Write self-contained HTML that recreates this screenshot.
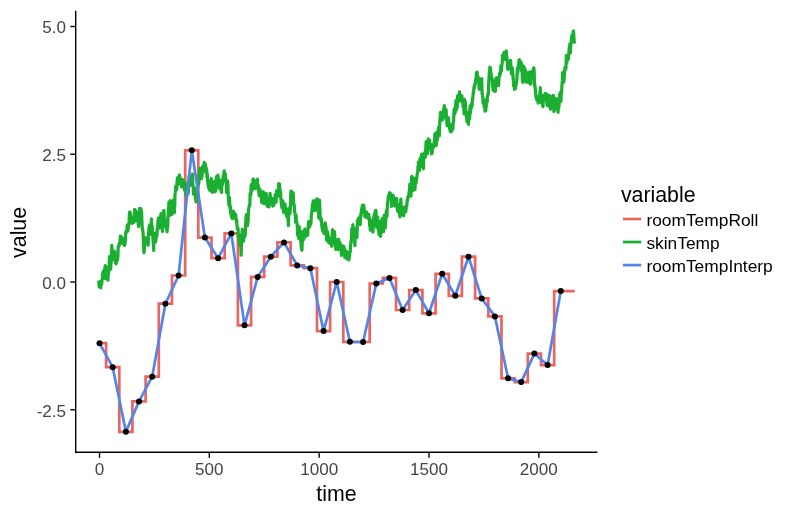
<!DOCTYPE html>
<html><head><meta charset="utf-8"><title>plot</title>
<style>
html,body{margin:0;padding:0;background:#ffffff;}
body{width:791px;height:511px;overflow:hidden;position:relative;font-family:"Liberation Sans",sans-serif;}
</style></head>
<body>
<svg width="791" height="511" viewBox="0 0 791 511" style="position:absolute;left:0;top:0;display:block;will-change:transform;opacity:0.999">
<rect x="0" y="0" width="791" height="511" fill="#ffffff"/>
<path d="M99.5,343.2 L106.1,343.2 L106.1,367.2 L119.3,367.2 L119.3,431.8 L132.4,431.8 L132.4,401.4 L145.6,401.4 L145.6,376.7 L158.8,376.7 L158.8,303.7 L172.0,303.7 L172.0,275.5 L185.2,275.5 L185.2,150.3 L198.3,150.3 L198.3,237.6 L211.5,237.6 L211.5,258.2 L224.7,258.2 L224.7,233.4 L237.9,233.4 L237.9,325.3 L251.1,325.3 L251.1,276.9 L264.2,276.9 L264.2,256.7 L277.4,256.7 L277.4,242.4 L290.6,242.4 L290.6,265.4 L303.8,265.4 L303.8,268.2 L317.0,268.2 L317.0,331.1 L330.1,331.1 L330.1,282.0 L343.3,282.0 L343.3,341.8 L356.5,341.8 L356.5,342.0 L369.7,342.0 L369.7,283.5 L382.9,283.5 L382.9,277.9 L396.0,277.9 L396.0,310.0 L409.2,310.0 L409.2,290.1 L422.4,290.1 L422.4,313.3 L435.6,313.3 L435.6,273.8 L448.8,273.8 L448.8,295.8 L461.9,295.8 L461.9,256.7 L475.1,256.7 L475.1,298.4 L488.3,298.4 L488.3,316.4 L501.5,316.4 L501.5,378.3 L514.7,378.3 L514.7,382.1 L527.8,382.1 L527.8,353.6 L541.0,353.6 L541.0,365.1 L554.2,365.1 L554.2,291.1 L574.8,291.1" fill="none" stroke="#E8665F" stroke-width="2.7" stroke-linejoin="miter" stroke-linecap="butt"/>
<path d="M98.8,280.5 L99.0,284.3 L99.2,286.9 L99.5,283.0 L99.7,284.3 L99.9,285.2 L100.1,286.6 L100.3,286.0 L100.6,287.6 L100.8,287.8 L101.0,281.2 L101.2,281.0 L101.4,281.0 L101.7,284.1 L101.9,281.3 L102.1,280.0 L102.3,278.6 L102.5,273.8 L102.8,277.7 L103.0,274.5 L103.2,271.3 L103.4,272.1 L103.6,277.9 L103.9,278.3 L104.1,273.7 L104.3,270.0 L104.5,271.5 L104.7,270.1 L105.0,266.9 L105.2,265.7 L105.4,269.6 L105.6,278.8 L105.8,276.5 L106.0,276.6 L106.3,276.0 L106.5,269.6 L106.7,268.6 L106.9,267.3 L107.1,273.8 L107.4,276.5 L107.6,273.8 L107.8,279.3 L108.0,280.1 L108.2,275.2 L108.5,273.8 L108.7,271.9 L108.9,269.0 L109.1,268.3 L109.3,259.0 L109.6,256.5 L109.8,258.9 L110.0,260.5 L110.2,263.3 L110.4,265.8 L110.7,269.1 L110.9,263.3 L111.1,263.5 L111.3,255.3 L111.5,252.6 L111.8,245.4 L112.0,249.1 L112.2,254.1 L112.4,253.5 L112.6,259.9 L112.9,257.8 L113.1,258.1 L113.3,257.3 L113.5,251.6 L113.7,251.3 L114.0,256.5 L114.2,251.2 L114.4,253.4 L114.6,251.5 L114.8,256.7 L115.1,257.4 L115.3,258.8 L115.5,261.5 L115.7,263.2 L115.9,258.5 L116.2,263.8 L116.4,259.6 L116.6,260.6 L116.8,261.3 L117.0,257.1 L117.3,256.7 L117.5,260.0 L117.7,258.7 L117.9,256.3 L118.1,248.0 L118.3,246.3 L118.6,246.4 L118.8,246.6 L119.0,244.7 L119.2,245.5 L119.4,243.3 L119.7,242.5 L119.9,243.7 L120.1,239.1 L120.3,236.2 L120.5,242.0 L120.8,243.3 L121.0,237.8 L121.2,236.5 L121.4,237.7 L121.6,241.4 L121.9,241.2 L122.1,239.5 L122.3,237.9 L122.5,241.2 L122.7,242.9 L123.0,241.5 L123.2,241.6 L123.4,240.9 L123.6,244.3 L123.8,242.2 L124.1,242.5 L124.3,244.6 L124.5,245.4 L124.7,241.3 L124.9,244.8 L125.2,241.1 L125.4,241.4 L125.6,238.0 L125.8,231.7 L126.0,232.0 L126.3,232.4 L126.5,231.5 L126.7,232.0 L126.9,229.2 L127.1,226.3 L127.4,224.8 L127.6,229.7 L127.8,231.2 L128.0,228.4 L128.2,229.3 L128.5,226.6 L128.7,223.5 L128.9,225.0 L129.1,221.6 L129.3,215.4 L129.6,212.1 L129.8,212.0 L130.0,212.1 L130.2,216.3 L130.4,213.2 L130.7,215.8 L130.9,217.2 L131.1,216.6 L131.3,219.6 L131.5,221.6 L131.7,218.9 L132.0,223.4 L132.2,219.3 L132.4,220.2 L132.6,220.8 L132.8,223.0 L133.1,221.6 L133.3,221.4 L133.5,219.6 L133.7,222.4 L133.9,218.2 L134.2,217.4 L134.4,215.3 L134.6,209.4 L134.8,217.5 L135.0,216.0 L135.3,209.8 L135.5,214.7 L135.7,212.5 L135.9,215.7 L136.1,220.6 L136.4,219.7 L136.6,220.0 L136.8,219.5 L137.0,219.9 L137.2,215.6 L137.5,212.3 L137.7,212.7 L137.9,216.3 L138.1,218.6 L138.3,224.6 L138.6,226.6 L138.8,224.5 L139.0,223.5 L139.2,216.0 L139.4,212.2 L139.7,208.4 L139.9,209.7 L140.1,213.8 L140.3,213.4 L140.5,212.6 L140.8,208.5 L141.0,209.1 L141.2,210.9 L141.4,213.3 L141.6,211.5 L141.9,219.5 L142.1,225.4 L142.3,228.2 L142.5,228.8 L142.7,230.0 L143.0,232.9 L143.2,235.2 L143.4,239.3 L143.6,244.3 L143.8,251.1 L144.0,252.7 L144.3,249.8 L144.5,248.4 L144.7,244.0 L144.9,238.8 L145.1,242.4 L145.4,237.8 L145.6,242.3 L145.8,238.9 L146.0,238.0 L146.2,242.2 L146.5,242.5 L146.7,243.5 L146.9,243.5 L147.1,242.4 L147.3,242.8 L147.6,239.5 L147.8,243.3 L148.0,240.9 L148.2,245.1 L148.4,233.9 L148.7,231.4 L148.9,230.6 L149.1,226.8 L149.3,227.7 L149.5,227.5 L149.8,224.8 L150.0,226.1 L150.2,234.5 L150.4,233.8 L150.6,233.3 L150.9,229.9 L151.1,228.4 L151.3,221.9 L151.5,218.8 L151.7,224.8 L152.0,226.6 L152.2,226.5 L152.4,228.7 L152.6,234.0 L152.8,235.2 L153.1,241.4 L153.3,244.1 L153.5,244.4 L153.7,250.5 L153.9,241.9 L154.2,239.6 L154.4,240.6 L154.6,237.3 L154.8,237.1 L155.0,235.3 L155.3,233.3 L155.5,242.1 L155.7,241.3 L155.9,237.8 L156.1,239.1 L156.4,234.9 L156.6,234.4 L156.8,232.6 L157.0,235.6 L157.2,228.4 L157.4,228.8 L157.7,227.0 L157.9,220.8 L158.1,222.8 L158.3,218.2 L158.5,222.6 L158.8,223.4 L159.0,225.0 L159.2,225.1 L159.4,228.2 L159.6,221.0 L159.9,220.3 L160.1,217.0 L160.3,217.2 L160.5,216.4 L160.7,217.8 L161.0,213.6 L161.2,219.0 L161.4,225.4 L161.6,223.2 L161.8,221.8 L162.1,221.9 L162.3,225.4 L162.5,231.5 L162.7,226.2 L162.9,223.3 L163.2,219.6 L163.4,216.0 L163.6,210.7 L163.8,212.7 L164.0,210.5 L164.3,218.3 L164.5,223.9 L164.7,222.5 L164.9,221.0 L165.1,220.4 L165.4,226.4 L165.6,224.4 L165.8,220.1 L166.0,221.1 L166.2,223.7 L166.5,223.0 L166.7,229.9 L166.9,230.4 L167.1,231.8 L167.3,228.6 L167.6,227.3 L167.8,225.6 L168.0,216.3 L168.2,215.5 L168.4,208.0 L168.7,207.4 L168.9,201.9 L169.1,208.2 L169.3,209.2 L169.5,212.6 L169.8,215.4 L170.0,210.8 L170.2,202.4 L170.4,200.5 L170.6,202.7 L170.8,203.0 L171.1,206.0 L171.3,210.0 L171.5,205.6 L171.7,207.3 L171.9,214.5 L172.2,213.2 L172.4,206.9 L172.6,206.5 L172.8,205.1 L173.0,207.4 L173.3,204.6 L173.5,205.9 L173.7,199.5 L173.9,203.7 L174.1,209.1 L174.4,212.6 L174.6,206.1 L174.8,205.9 L175.0,193.8 L175.2,193.1 L175.5,191.1 L175.7,186.2 L175.9,186.5 L176.1,186.4 L176.3,188.7 L176.6,188.5 L176.8,189.5 L177.0,183.1 L177.2,179.4 L177.4,177.9 L177.7,179.1 L177.9,179.4 L178.1,184.6 L178.3,181.3 L178.5,179.9 L178.8,179.9 L179.0,177.6 L179.2,178.1 L179.4,174.8 L179.6,178.7 L179.9,176.7 L180.1,179.3 L180.3,178.7 L180.5,183.8 L180.7,179.0 L181.0,180.9 L181.2,179.9 L181.4,181.6 L181.6,186.8 L181.8,184.5 L182.1,181.6 L182.3,180.0 L182.5,183.4 L182.7,179.5 L182.9,182.5 L183.1,180.8 L183.4,180.5 L183.6,182.7 L183.8,187.3 L184.0,187.8 L184.2,188.3 L184.5,189.8 L184.7,190.4 L184.9,182.6 L185.1,182.3 L185.3,183.2 L185.6,186.7 L185.8,193.4 L186.0,195.2 L186.2,194.7 L186.4,190.0 L186.7,188.3 L186.9,189.0 L187.1,191.6 L187.3,187.0 L187.5,186.9 L187.8,188.8 L188.0,194.1 L188.2,193.4 L188.4,188.8 L188.6,184.1 L188.9,180.6 L189.1,176.0 L189.3,176.7 L189.5,178.1 L189.7,178.7 L190.0,181.4 L190.2,178.4 L190.4,178.2 L190.6,177.9 L190.8,179.1 L191.1,184.5 L191.3,185.4 L191.5,180.2 L191.7,180.8 L191.9,179.4 L192.2,175.7 L192.4,174.1 L192.6,178.2 L192.8,185.0 L193.0,184.6 L193.3,189.2 L193.5,194.1 L193.7,190.3 L193.9,190.5 L194.1,191.5 L194.4,192.9 L194.6,188.3 L194.8,188.2 L195.0,190.8 L195.2,194.2 L195.5,199.3 L195.7,196.6 L195.9,201.4 L196.1,201.9 L196.3,194.9 L196.5,195.0 L196.8,191.3 L197.0,191.1 L197.2,187.8 L197.4,189.1 L197.6,187.6 L197.9,184.6 L198.1,185.9 L198.3,185.0 L198.5,181.3 L198.7,183.9 L199.0,180.5 L199.2,176.9 L199.4,175.3 L199.6,170.2 L199.8,168.3 L200.1,175.1 L200.3,172.2 L200.5,172.9 L200.7,169.8 L200.9,168.6 L201.2,174.9 L201.4,178.6 L201.6,176.9 L201.8,177.6 L202.0,175.3 L202.3,173.1 L202.5,169.5 L202.7,166.0 L202.9,166.9 L203.1,168.9 L203.4,170.1 L203.6,169.1 L203.8,165.2 L204.0,165.6 L204.2,162.4 L204.5,165.8 L204.7,168.0 L204.9,170.8 L205.1,170.1 L205.3,163.9 L205.6,167.5 L205.8,172.4 L206.0,167.3 L206.2,168.1 L206.4,172.9 L206.7,169.7 L206.9,176.9 L207.1,176.3 L207.3,173.9 L207.5,180.4 L207.8,182.8 L208.0,181.7 L208.2,186.0 L208.4,180.3 L208.6,188.0 L208.8,186.4 L209.1,187.9 L209.3,186.1 L209.5,187.4 L209.7,190.4 L209.9,187.3 L210.2,189.5 L210.4,188.0 L210.6,184.8 L210.8,183.6 L211.0,180.2 L211.3,178.6 L211.5,183.3 L211.7,183.9 L211.9,189.5 L212.1,192.3 L212.4,190.3 L212.6,185.6 L212.8,184.8 L213.0,186.5 L213.2,187.5 L213.5,185.7 L213.7,190.4 L213.9,185.5 L214.1,181.7 L214.3,182.4 L214.6,190.2 L214.8,191.9 L215.0,188.3 L215.2,189.8 L215.4,191.0 L215.7,191.0 L215.9,186.2 L216.1,180.1 L216.3,177.7 L216.5,176.5 L216.8,179.0 L217.0,184.7 L217.2,180.8 L217.4,177.8 L217.6,176.7 L217.9,175.1 L218.1,176.3 L218.3,177.9 L218.5,179.6 L218.7,185.7 L219.0,188.1 L219.2,187.2 L219.4,184.8 L219.6,184.6 L219.8,184.5 L220.1,180.1 L220.3,185.1 L220.5,188.7 L220.7,189.9 L220.9,189.3 L221.2,185.9 L221.4,184.4 L221.6,192.5 L221.8,184.7 L222.0,183.7 L222.2,185.0 L222.5,184.3 L222.7,181.7 L222.9,182.2 L223.1,175.8 L223.3,176.6 L223.6,180.0 L223.8,175.2 L224.0,171.3 L224.2,170.8 L224.4,173.5 L224.7,177.7 L224.9,179.3 L225.1,176.1 L225.3,173.6 L225.5,176.8 L225.8,180.6 L226.0,179.4 L226.2,182.5 L226.4,186.5 L226.6,192.5 L226.9,189.2 L227.1,190.2 L227.3,184.9 L227.5,182.6 L227.7,181.0 L228.0,185.3 L228.2,196.4 L228.4,198.2 L228.6,200.5 L228.8,204.9 L229.1,200.4 L229.3,203.1 L229.5,197.6 L229.7,202.2 L229.9,207.4 L230.2,209.2 L230.4,206.4 L230.6,212.3 L230.8,213.1 L231.0,214.1 L231.3,216.3 L231.5,210.7 L231.7,213.0 L231.9,217.4 L232.1,218.3 L232.4,218.6 L232.6,215.0 L232.8,216.7 L233.0,216.7 L233.2,215.2 L233.5,211.4 L233.7,211.8 L233.9,213.7 L234.1,212.6 L234.3,213.0 L234.5,214.9 L234.8,217.9 L235.0,217.0 L235.2,216.1 L235.4,214.4 L235.6,214.6 L235.9,216.7 L236.1,220.6 L236.3,220.1 L236.5,222.2 L236.7,220.2 L237.0,226.1 L237.2,226.1 L237.4,229.0 L237.6,228.4 L237.8,229.4 L238.1,228.5 L238.3,235.8 L238.5,237.5 L238.7,237.8 L238.9,235.4 L239.2,234.6 L239.4,237.8 L239.6,244.7 L239.8,240.8 L240.0,239.7 L240.3,244.1 L240.5,246.5 L240.7,245.1 L240.9,248.8 L241.1,255.1 L241.4,246.8 L241.6,241.7 L241.8,239.4 L242.0,236.8 L242.2,229.4 L242.5,230.9 L242.7,229.9 L242.9,230.6 L243.1,237.0 L243.3,236.1 L243.6,241.1 L243.8,234.7 L244.0,235.8 L244.2,232.6 L244.4,235.4 L244.7,236.5 L244.9,236.5 L245.1,234.0 L245.3,234.5 L245.5,223.8 L245.8,221.2 L246.0,217.9 L246.2,215.9 L246.4,214.7 L246.6,223.7 L246.9,220.7 L247.1,221.4 L247.3,221.0 L247.5,225.7 L247.7,217.8 L247.9,222.9 L248.2,219.8 L248.4,212.1 L248.6,209.0 L248.8,208.8 L249.0,207.2 L249.3,205.2 L249.5,206.2 L249.7,205.0 L249.9,203.1 L250.1,193.5 L250.4,193.1 L250.6,195.6 L250.8,194.4 L251.0,188.3 L251.2,184.5 L251.5,191.5 L251.7,190.7 L251.9,188.9 L252.1,186.7 L252.3,189.7 L252.6,188.1 L252.8,184.9 L253.0,179.3 L253.2,178.9 L253.4,182.1 L253.7,181.0 L253.9,183.5 L254.1,183.9 L254.3,184.5 L254.5,184.9 L254.8,184.4 L255.0,187.2 L255.2,188.7 L255.4,186.4 L255.6,186.4 L255.9,185.8 L256.1,186.2 L256.3,185.4 L256.5,185.6 L256.7,179.8 L257.0,180.4 L257.2,184.4 L257.4,179.2 L257.6,184.3 L257.8,187.4 L258.1,189.0 L258.3,185.4 L258.5,191.7 L258.7,190.7 L258.9,191.7 L259.2,195.9 L259.4,194.6 L259.6,192.2 L259.8,189.3 L260.0,189.1 L260.3,191.5 L260.5,193.5 L260.7,195.6 L260.9,194.8 L261.1,195.7 L261.3,194.1 L261.6,201.5 L261.8,202.8 L262.0,196.5 L262.2,192.9 L262.4,198.9 L262.7,194.1 L262.9,192.9 L263.1,194.6 L263.3,191.5 L263.5,195.9 L263.8,202.2 L264.0,199.1 L264.2,203.6 L264.4,201.0 L264.6,198.0 L264.9,199.4 L265.1,200.3 L265.3,198.5 L265.5,202.4 L265.7,198.0 L266.0,195.9 L266.2,193.3 L266.4,197.1 L266.6,201.4 L266.8,205.2 L267.1,202.0 L267.3,203.8 L267.5,206.3 L267.7,201.2 L267.9,198.7 L268.2,201.7 L268.4,205.1 L268.6,206.4 L268.8,206.9 L269.0,206.6 L269.3,205.7 L269.5,203.7 L269.7,198.8 L269.9,196.3 L270.1,193.3 L270.4,199.9 L270.6,200.4 L270.8,200.4 L271.0,199.7 L271.2,199.2 L271.5,198.1 L271.7,199.9 L271.9,199.5 L272.1,202.7 L272.3,200.7 L272.6,202.8 L272.8,206.2 L273.0,202.7 L273.2,204.0 L273.4,205.5 L273.6,205.4 L273.9,204.7 L274.1,198.9 L274.3,203.6 L274.5,201.3 L274.7,197.4 L275.0,200.5 L275.2,194.6 L275.4,198.5 L275.6,200.6 L275.8,202.4 L276.1,202.0 L276.3,197.7 L276.5,190.8 L276.7,195.8 L276.9,193.6 L277.2,191.1 L277.4,195.7 L277.6,192.6 L277.8,191.5 L278.0,190.6 L278.3,189.6 L278.5,185.8 L278.7,183.7 L278.9,190.4 L279.1,196.1 L279.4,188.4 L279.6,184.1 L279.8,187.8 L280.0,189.9 L280.2,190.6 L280.5,196.3 L280.7,192.6 L280.9,199.2 L281.1,200.9 L281.3,203.4 L281.6,204.6 L281.8,207.6 L282.0,206.2 L282.2,204.0 L282.4,205.9 L282.7,206.1 L282.9,200.8 L283.1,204.5 L283.3,207.7 L283.5,212.1 L283.8,211.3 L284.0,211.6 L284.2,209.7 L284.4,206.0 L284.6,205.3 L284.9,205.4 L285.1,204.1 L285.3,212.2 L285.5,208.6 L285.7,208.2 L286.0,208.0 L286.2,214.4 L286.4,215.2 L286.6,216.0 L286.8,214.0 L287.0,212.8 L287.3,209.0 L287.5,213.2 L287.7,215.6 L287.9,219.5 L288.1,217.3 L288.4,225.6 L288.6,221.1 L288.8,212.8 L289.0,210.4 L289.2,210.1 L289.5,212.0 L289.7,207.6 L289.9,208.5 L290.1,213.5 L290.3,208.0 L290.6,202.3 L290.8,193.1 L291.0,191.0 L291.2,191.5 L291.4,191.4 L291.7,191.9 L291.9,194.8 L292.1,194.3 L292.3,198.1 L292.5,195.2 L292.8,193.1 L293.0,194.6 L293.2,192.8 L293.4,196.1 L293.6,202.6 L293.9,205.8 L294.1,205.4 L294.3,205.0 L294.5,212.0 L294.7,211.2 L295.0,213.3 L295.2,214.1 L295.4,216.4 L295.6,222.1 L295.8,220.2 L296.1,214.9 L296.3,219.9 L296.5,220.6 L296.7,223.0 L296.9,222.6 L297.2,224.8 L297.4,229.2 L297.6,235.0 L297.8,234.7 L298.0,234.2 L298.3,236.2 L298.5,237.3 L298.7,238.4 L298.9,235.2 L299.1,226.5 L299.3,227.7 L299.6,229.8 L299.8,231.3 L300.0,236.4 L300.2,239.3 L300.4,238.0 L300.7,241.7 L300.9,241.1 L301.1,245.8 L301.3,247.0 L301.5,248.8 L301.8,249.8 L302.0,250.2 L302.2,243.0 L302.4,241.6 L302.6,231.5 L302.9,231.7 L303.1,233.4 L303.3,239.4 L303.5,239.6 L303.7,236.1 L304.0,230.9 L304.2,238.1 L304.4,233.2 L304.6,236.8 L304.8,229.2 L305.1,230.0 L305.3,233.5 L305.5,235.5 L305.7,236.2 L305.9,233.9 L306.2,230.5 L306.4,234.2 L306.6,235.3 L306.8,234.1 L307.0,234.4 L307.3,230.4 L307.5,232.8 L307.7,235.3 L307.9,229.3 L308.1,226.3 L308.4,227.0 L308.6,221.5 L308.8,225.5 L309.0,227.4 L309.2,223.1 L309.5,223.6 L309.7,226.6 L309.9,221.6 L310.1,223.5 L310.3,222.4 L310.6,221.6 L310.8,224.3 L311.0,222.9 L311.2,218.1 L311.4,213.6 L311.7,211.9 L311.9,211.8 L312.1,209.2 L312.3,206.3 L312.5,204.1 L312.7,206.5 L313.0,206.1 L313.2,200.8 L313.4,200.9 L313.6,206.2 L313.8,205.4 L314.1,205.5 L314.3,206.9 L314.5,205.3 L314.7,210.6 L314.9,204.7 L315.2,210.3 L315.4,209.2 L315.6,204.8 L315.8,205.8 L316.0,199.8 L316.3,201.4 L316.5,203.7 L316.7,200.8 L316.9,198.9 L317.1,201.5 L317.4,199.1 L317.6,200.6 L317.8,203.3 L318.0,210.8 L318.2,210.9 L318.5,212.7 L318.7,218.0 L318.9,210.7 L319.1,210.9 L319.3,205.2 L319.6,200.0 L319.8,208.5 L320.0,210.7 L320.2,217.0 L320.4,217.6 L320.7,220.2 L320.9,219.6 L321.1,218.3 L321.3,218.5 L321.5,219.7 L321.8,225.9 L322.0,226.4 L322.2,228.9 L322.4,229.1 L322.6,230.4 L322.9,226.9 L323.1,231.6 L323.3,230.5 L323.5,231.6 L323.7,231.6 L324.0,233.5 L324.2,232.4 L324.4,229.4 L324.6,227.0 L324.8,225.1 L325.0,224.0 L325.3,222.8 L325.5,225.8 L325.7,230.8 L325.9,232.2 L326.1,227.2 L326.4,232.6 L326.6,240.1 L326.8,238.9 L327.0,237.7 L327.2,231.0 L327.5,235.2 L327.7,233.3 L327.9,241.2 L328.1,234.4 L328.3,237.0 L328.6,241.7 L328.8,242.5 L329.0,241.3 L329.2,243.2 L329.4,241.6 L329.7,241.2 L329.9,241.0 L330.1,239.3 L330.3,238.6 L330.5,242.1 L330.8,241.4 L331.0,243.2 L331.2,241.4 L331.4,245.3 L331.6,241.8 L331.9,246.3 L332.1,236.4 L332.3,234.2 L332.5,229.6 L332.7,234.6 L333.0,237.1 L333.2,234.2 L333.4,233.2 L333.6,239.1 L333.8,239.4 L334.1,241.9 L334.3,236.4 L334.5,231.6 L334.7,234.5 L334.9,243.6 L335.2,242.7 L335.4,246.0 L335.6,243.6 L335.8,249.4 L336.0,248.5 L336.3,247.0 L336.5,240.4 L336.7,239.7 L336.9,241.4 L337.1,247.6 L337.4,244.3 L337.6,249.1 L337.8,249.4 L338.0,249.6 L338.2,247.4 L338.4,242.4 L338.7,239.4 L338.9,246.5 L339.1,243.3 L339.3,243.0 L339.5,248.1 L339.8,242.0 L340.0,244.6 L340.2,243.6 L340.4,244.8 L340.6,249.2 L340.9,249.4 L341.1,249.6 L341.3,253.4 L341.5,255.5 L341.7,252.4 L342.0,251.2 L342.2,246.0 L342.4,250.5 L342.6,245.8 L342.8,246.0 L343.1,251.7 L343.3,253.7 L343.5,252.2 L343.7,249.2 L343.9,246.3 L344.2,249.1 L344.4,249.5 L344.6,248.8 L344.8,257.4 L345.0,254.2 L345.3,252.1 L345.5,250.9 L345.7,251.4 L345.9,252.6 L346.1,252.1 L346.4,255.2 L346.6,258.5 L346.8,258.8 L347.0,251.6 L347.2,255.7 L347.5,254.3 L347.7,254.1 L347.9,255.6 L348.1,253.6 L348.3,253.4 L348.6,256.0 L348.8,256.5 L349.0,259.9 L349.2,257.5 L349.4,257.1 L349.7,253.3 L349.9,252.0 L350.1,252.5 L350.3,251.4 L350.5,245.6 L350.8,243.9 L351.0,241.5 L351.2,242.7 L351.4,239.9 L351.6,235.5 L351.8,228.5 L352.1,233.7 L352.3,231.6 L352.5,228.9 L352.7,229.5 L352.9,224.5 L353.2,228.9 L353.4,229.9 L353.6,232.2 L353.8,229.4 L354.0,227.8 L354.3,230.5 L354.5,233.3 L354.7,242.3 L354.9,245.6 L355.1,238.3 L355.4,237.6 L355.6,235.3 L355.8,237.7 L356.0,235.6 L356.2,235.3 L356.5,232.8 L356.7,233.8 L356.9,237.6 L357.1,233.8 L357.3,224.8 L357.6,220.0 L357.8,224.4 L358.0,224.3 L358.2,222.5 L358.4,218.3 L358.7,221.2 L358.9,221.7 L359.1,220.7 L359.3,218.1 L359.5,217.5 L359.8,217.0 L360.0,219.6 L360.2,224.7 L360.4,218.7 L360.6,214.7 L360.9,215.5 L361.1,216.5 L361.3,211.7 L361.5,209.8 L361.7,208.8 L362.0,207.7 L362.2,206.2 L362.4,205.5 L362.6,208.3 L362.8,210.3 L363.1,211.5 L363.3,211.4 L363.5,207.7 L363.7,205.1 L363.9,207.3 L364.1,208.2 L364.4,211.5 L364.6,213.3 L364.8,214.5 L365.0,217.2 L365.2,212.7 L365.5,212.8 L365.7,211.6 L365.9,215.3 L366.1,212.9 L366.3,213.6 L366.6,212.0 L366.8,213.7 L367.0,216.0 L367.2,215.2 L367.4,215.4 L367.7,215.9 L367.9,218.5 L368.1,217.0 L368.3,217.5 L368.5,216.9 L368.8,214.4 L369.0,216.4 L369.2,219.2 L369.4,218.1 L369.6,225.6 L369.9,224.7 L370.1,228.4 L370.3,230.2 L370.5,224.9 L370.7,225.5 L371.0,220.5 L371.2,220.3 L371.4,222.0 L371.6,227.8 L371.8,230.0 L372.1,224.6 L372.3,223.0 L372.5,227.5 L372.7,227.2 L372.9,232.2 L373.2,228.5 L373.4,225.6 L373.6,219.9 L373.8,216.9 L374.0,219.0 L374.3,214.1 L374.5,215.2 L374.7,215.1 L374.9,215.9 L375.1,212.6 L375.4,210.7 L375.6,216.2 L375.8,210.4 L376.0,211.6 L376.2,217.1 L376.5,219.9 L376.7,227.3 L376.9,218.2 L377.1,218.9 L377.3,216.8 L377.5,217.2 L377.8,219.3 L378.0,223.8 L378.2,223.8 L378.4,230.4 L378.6,227.7 L378.9,233.5 L379.1,234.6 L379.3,230.6 L379.5,227.0 L379.7,223.1 L380.0,221.9 L380.2,224.8 L380.4,231.7 L380.6,236.4 L380.8,233.9 L381.1,227.5 L381.3,227.2 L381.5,222.4 L381.7,221.7 L381.9,218.8 L382.2,228.1 L382.4,222.9 L382.6,224.8 L382.8,231.5 L383.0,229.9 L383.3,226.8 L383.5,231.7 L383.7,224.3 L383.9,219.1 L384.1,215.3 L384.4,216.9 L384.6,220.3 L384.8,220.5 L385.0,228.2 L385.2,227.6 L385.5,224.6 L385.7,219.5 L385.9,219.7 L386.1,215.7 L386.3,210.6 L386.6,212.8 L386.8,214.7 L387.0,216.4 L387.2,210.4 L387.4,204.9 L387.7,202.8 L387.9,200.7 L388.1,198.1 L388.3,196.4 L388.5,198.2 L388.8,195.4 L389.0,196.6 L389.2,195.4 L389.4,193.7 L389.6,192.7 L389.8,195.1 L390.1,195.7 L390.3,193.1 L390.5,194.4 L390.7,195.5 L390.9,197.4 L391.2,197.4 L391.4,202.9 L391.6,206.4 L391.8,204.3 L392.0,201.0 L392.3,197.5 L392.5,199.8 L392.7,198.3 L392.9,197.4 L393.1,195.1 L393.4,197.8 L393.6,203.5 L393.8,200.5 L394.0,204.9 L394.2,204.4 L394.5,206.0 L394.7,203.0 L394.9,198.4 L395.1,200.3 L395.3,205.4 L395.6,199.9 L395.8,200.1 L396.0,201.2 L396.2,203.9 L396.4,200.4 L396.7,198.6 L396.9,202.2 L397.1,208.5 L397.3,208.4 L397.5,211.0 L397.8,210.8 L398.0,211.5 L398.2,209.2 L398.4,207.1 L398.6,204.8 L398.9,205.6 L399.1,210.0 L399.3,211.6 L399.5,214.7 L399.7,213.4 L400.0,217.0 L400.2,207.0 L400.4,203.3 L400.6,203.7 L400.8,199.2 L401.1,203.6 L401.3,208.2 L401.5,209.3 L401.7,213.9 L401.9,212.1 L402.2,212.0 L402.4,213.8 L402.6,209.9 L402.8,214.0 L403.0,212.1 L403.2,215.5 L403.5,215.0 L403.7,215.7 L403.9,211.9 L404.1,209.8 L404.3,207.0 L404.6,206.9 L404.8,211.2 L405.0,208.9 L405.2,208.0 L405.4,209.1 L405.7,211.8 L405.9,210.9 L406.1,208.9 L406.3,206.3 L406.5,205.8 L406.8,205.7 L407.0,202.2 L407.2,199.8 L407.4,201.5 L407.6,200.3 L407.9,196.7 L408.1,196.6 L408.3,196.9 L408.5,197.0 L408.7,197.0 L409.0,193.1 L409.2,191.5 L409.4,190.3 L409.6,189.0 L409.8,184.0 L410.1,186.0 L410.3,189.6 L410.5,193.4 L410.7,194.0 L410.9,196.1 L411.2,191.8 L411.4,187.6 L411.6,176.9 L411.8,176.3 L412.0,182.0 L412.3,188.3 L412.5,184.7 L412.7,186.9 L412.9,190.7 L413.1,188.6 L413.4,179.6 L413.6,182.6 L413.8,180.2 L414.0,178.0 L414.2,182.8 L414.5,183.2 L414.7,185.0 L414.9,189.6 L415.1,187.5 L415.3,182.7 L415.5,183.8 L415.8,182.0 L416.0,183.1 L416.2,183.0 L416.4,179.3 L416.6,178.6 L416.9,176.9 L417.1,174.6 L417.3,173.2 L417.5,173.1 L417.7,172.5 L418.0,166.8 L418.2,167.9 L418.4,162.1 L418.6,169.1 L418.8,166.4 L419.1,165.8 L419.3,170.3 L419.5,169.5 L419.7,164.5 L419.9,158.8 L420.2,159.0 L420.4,159.3 L420.6,160.9 L420.8,160.3 L421.0,157.0 L421.3,156.7 L421.5,159.6 L421.7,154.0 L421.9,163.6 L422.1,159.9 L422.4,162.1 L422.6,166.3 L422.8,167.1 L423.0,165.9 L423.2,166.5 L423.5,168.8 L423.7,158.2 L423.9,158.1 L424.1,155.7 L424.3,152.9 L424.6,153.1 L424.8,153.6 L425.0,155.4 L425.2,153.6 L425.4,157.4 L425.7,149.7 L425.9,145.6 L426.1,141.5 L426.3,142.7 L426.5,142.1 L426.8,145.6 L427.0,144.0 L427.2,149.9 L427.4,153.7 L427.6,152.5 L427.9,147.0 L428.1,143.8 L428.3,138.8 L428.5,143.2 L428.7,145.7 L428.9,141.7 L429.2,148.6 L429.4,148.0 L429.6,140.1 L429.8,143.6 L430.0,147.4 L430.3,147.1 L430.5,144.0 L430.7,148.8 L430.9,148.6 L431.1,149.8 L431.4,152.1 L431.6,154.0 L431.8,153.5 L432.0,150.9 L432.2,153.1 L432.5,144.8 L432.7,145.3 L432.9,145.5 L433.1,146.9 L433.3,145.5 L433.6,145.6 L433.8,147.2 L434.0,142.8 L434.2,142.3 L434.4,143.0 L434.7,137.8 L434.9,133.5 L435.1,138.5 L435.3,141.8 L435.5,138.8 L435.8,140.3 L436.0,140.0 L436.2,143.4 L436.4,145.4 L436.6,134.9 L436.9,132.2 L437.1,135.9 L437.3,140.1 L437.5,136.6 L437.7,131.7 L438.0,132.6 L438.2,131.0 L438.4,131.3 L438.6,127.4 L438.8,130.9 L439.1,133.9 L439.3,136.0 L439.5,131.5 L439.7,124.9 L439.9,119.4 L440.2,119.9 L440.4,112.3 L440.6,113.6 L440.8,118.9 L441.0,116.0 L441.2,114.3 L441.5,117.0 L441.7,120.2 L441.9,118.7 L442.1,118.0 L442.3,118.2 L442.6,117.6 L442.8,119.7 L443.0,117.5 L443.2,118.7 L443.4,109.6 L443.7,110.4 L443.9,110.1 L444.1,106.8 L444.3,105.6 L444.5,106.7 L444.8,108.8 L445.0,110.3 L445.2,113.2 L445.4,112.7 L445.6,110.3 L445.9,109.6 L446.1,109.6 L446.3,113.4 L446.5,117.3 L446.7,118.9 L447.0,125.2 L447.2,125.8 L447.4,124.1 L447.6,121.7 L447.8,118.6 L448.1,117.5 L448.3,122.8 L448.5,118.0 L448.7,121.2 L448.9,122.2 L449.2,126.0 L449.4,125.3 L449.6,128.4 L449.8,127.4 L450.0,131.0 L450.3,125.4 L450.5,128.3 L450.7,132.0 L450.9,127.9 L451.1,131.8 L451.4,128.7 L451.6,131.2 L451.8,129.6 L452.0,129.9 L452.2,129.4 L452.5,123.7 L452.7,126.9 L452.9,129.2 L453.1,123.2 L453.3,122.5 L453.6,121.3 L453.8,116.4 L454.0,110.2 L454.2,112.1 L454.4,108.7 L454.6,109.5 L454.9,113.7 L455.1,113.1 L455.3,108.0 L455.5,109.5 L455.7,103.6 L456.0,100.3 L456.2,110.5 L456.4,107.8 L456.6,109.3 L456.8,105.9 L457.1,105.9 L457.3,107.1 L457.5,98.1 L457.7,95.7 L457.9,98.2 L458.2,100.7 L458.4,101.7 L458.6,97.7 L458.8,98.3 L459.0,96.2 L459.3,92.7 L459.5,91.9 L459.7,99.3 L459.9,95.8 L460.1,99.4 L460.4,100.3 L460.6,96.5 L460.8,95.0 L461.0,96.1 L461.2,96.1 L461.5,98.8 L461.7,97.1 L461.9,95.8 L462.1,101.5 L462.3,102.2 L462.6,99.3 L462.8,99.6 L463.0,106.7 L463.2,105.1 L463.4,100.1 L463.7,103.3 L463.9,110.4 L464.1,113.8 L464.3,107.9 L464.5,99.4 L464.8,103.1 L465.0,101.9 L465.2,102.7 L465.4,101.4 L465.6,107.6 L465.9,110.5 L466.1,112.7 L466.3,116.4 L466.5,115.6 L466.7,119.2 L467.0,121.9 L467.2,117.8 L467.4,117.9 L467.6,116.3 L467.8,112.5 L468.0,115.5 L468.3,121.1 L468.5,124.3 L468.7,120.7 L468.9,115.6 L469.1,119.2 L469.4,118.9 L469.6,118.6 L469.8,113.6 L470.0,106.3 L470.2,113.9 L470.5,111.2 L470.7,109.3 L470.9,104.6 L471.1,109.0 L471.3,106.9 L471.6,105.0 L471.8,103.5 L472.0,102.2 L472.2,106.0 L472.4,98.6 L472.7,99.4 L472.9,96.2 L473.1,94.6 L473.3,92.2 L473.5,93.4 L473.8,88.7 L474.0,86.9 L474.2,88.8 L474.4,86.6 L474.6,84.7 L474.9,85.3 L475.1,84.7 L475.3,83.0 L475.5,82.7 L475.7,79.0 L476.0,81.3 L476.2,76.8 L476.4,72.7 L476.6,76.1 L476.8,73.5 L477.1,72.1 L477.3,73.4 L477.5,77.3 L477.7,77.5 L477.9,77.5 L478.2,77.1 L478.4,79.9 L478.6,79.5 L478.8,81.8 L479.0,88.1 L479.3,89.0 L479.5,89.2 L479.7,87.5 L479.9,86.2 L480.1,83.6 L480.3,80.8 L480.6,79.1 L480.8,80.9 L481.0,83.1 L481.2,81.9 L481.4,83.1 L481.7,78.5 L481.9,85.7 L482.1,94.0 L482.3,93.3 L482.5,95.2 L482.8,97.9 L483.0,102.9 L483.2,102.9 L483.4,99.1 L483.6,104.0 L483.9,102.9 L484.1,106.7 L484.3,103.5 L484.5,101.0 L484.7,104.8 L485.0,111.1 L485.2,110.7 L485.4,109.7 L485.6,110.9 L485.8,110.4 L486.1,105.6 L486.3,106.5 L486.5,99.4 L486.7,101.8 L486.9,100.8 L487.2,102.2 L487.4,97.8 L487.6,95.6 L487.8,94.1 L488.0,95.1 L488.3,93.8 L488.5,90.7 L488.7,82.3 L488.9,80.1 L489.1,76.5 L489.4,71.6 L489.6,72.8 L489.8,67.0 L490.0,70.8 L490.2,67.4 L490.5,68.8 L490.7,72.5 L490.9,71.7 L491.1,74.0 L491.3,78.6 L491.6,76.8 L491.8,78.8 L492.0,78.6 L492.2,79.2 L492.4,85.3 L492.7,86.0 L492.9,87.5 L493.1,90.3 L493.3,87.7 L493.5,89.6 L493.7,88.6 L494.0,87.0 L494.2,82.1 L494.4,81.3 L494.6,85.8 L494.8,91.1 L495.1,90.9 L495.3,91.5 L495.5,90.4 L495.7,85.7 L495.9,78.1 L496.2,82.7 L496.4,78.1 L496.6,78.0 L496.8,82.3 L497.0,79.8 L497.3,78.1 L497.5,79.2 L497.7,77.9 L497.9,79.4 L498.1,78.7 L498.4,83.0 L498.6,85.6 L498.8,82.3 L499.0,78.4 L499.2,76.8 L499.5,75.1 L499.7,72.8 L499.9,75.8 L500.1,73.6 L500.3,72.4 L500.6,73.0 L500.8,65.8 L501.0,66.6 L501.2,67.5 L501.4,71.2 L501.7,66.8 L501.9,64.3 L502.1,63.9 L502.3,61.5 L502.5,55.2 L502.8,57.9 L503.0,56.6 L503.2,58.1 L503.4,54.3 L503.6,57.0 L503.9,55.2 L504.1,52.4 L504.3,54.3 L504.5,57.1 L504.7,53.0 L505.0,55.2 L505.2,59.5 L505.4,59.4 L505.6,53.1 L505.8,53.5 L506.0,55.6 L506.3,50.8 L506.5,55.9 L506.7,56.0 L506.9,56.8 L507.1,61.6 L507.4,63.0 L507.6,68.2 L507.8,69.0 L508.0,69.4 L508.2,67.5 L508.5,66.1 L508.7,65.8 L508.9,65.6 L509.1,62.7 L509.3,64.0 L509.6,61.7 L509.8,63.8 L510.0,63.9 L510.2,62.7 L510.4,60.3 L510.7,61.3 L510.9,66.9 L511.1,68.6 L511.3,73.0 L511.5,73.9 L511.8,74.3 L512.0,73.1 L512.2,67.7 L512.4,70.2 L512.6,72.3 L512.9,74.2 L513.1,78.9 L513.3,77.8 L513.5,85.9 L513.7,82.9 L514.0,85.6 L514.2,83.3 L514.4,83.9 L514.6,89.4 L514.8,85.6 L515.1,87.2 L515.3,88.7 L515.5,88.4 L515.7,86.4 L515.9,85.9 L516.2,84.2 L516.4,82.0 L516.6,81.4 L516.8,80.2 L517.0,75.9 L517.3,68.5 L517.5,70.1 L517.7,67.5 L517.9,72.5 L518.1,69.5 L518.4,64.8 L518.6,68.3 L518.8,65.3 L519.0,59.8 L519.2,63.9 L519.4,59.6 L519.7,65.8 L519.9,63.9 L520.1,66.1 L520.3,68.1 L520.5,62.8 L520.8,63.1 L521.0,62.1 L521.2,62.5 L521.4,65.0 L521.6,70.8 L521.9,70.5 L522.1,70.8 L522.3,78.3 L522.5,80.2 L522.7,82.3 L523.0,76.5 L523.2,71.1 L523.4,68.2 L523.6,66.2 L523.8,66.6 L524.1,75.5 L524.3,70.2 L524.5,67.9 L524.7,69.2 L524.9,69.3 L525.2,73.6 L525.4,73.3 L525.6,70.8 L525.8,79.4 L526.0,82.1 L526.3,79.0 L526.5,78.7 L526.7,79.5 L526.9,74.3 L527.1,77.3 L527.4,78.2 L527.6,77.6 L527.8,75.8 L528.0,82.0 L528.2,82.6 L528.5,80.7 L528.7,74.7 L528.9,72.2 L529.1,76.2 L529.3,82.8 L529.6,80.4 L529.8,75.6 L530.0,78.0 L530.2,79.8 L530.4,84.1 L530.7,82.4 L530.9,83.9 L531.1,78.5 L531.3,75.1 L531.5,73.7 L531.7,71.3 L532.0,72.5 L532.2,76.7 L532.4,71.8 L532.6,77.8 L532.8,74.6 L533.1,72.1 L533.3,75.2 L533.5,69.6 L533.7,67.8 L533.9,68.2 L534.2,71.5 L534.4,78.5 L534.6,85.7 L534.8,84.3 L535.0,88.2 L535.3,87.4 L535.5,93.3 L535.7,92.8 L535.9,97.2 L536.1,94.8 L536.4,98.8 L536.6,96.6 L536.8,100.0 L537.0,97.0 L537.2,99.4 L537.5,99.1 L537.7,98.1 L537.9,101.0 L538.1,103.1 L538.3,100.7 L538.6,98.7 L538.8,98.1 L539.0,98.7 L539.2,98.4 L539.4,95.7 L539.7,98.4 L539.9,92.5 L540.1,91.5 L540.3,87.7 L540.5,96.7 L540.8,96.3 L541.0,97.6 L541.2,102.8 L541.4,102.9 L541.6,100.8 L541.9,95.6 L542.1,95.8 L542.3,102.9 L542.5,101.6 L542.7,105.6 L543.0,106.6 L543.2,103.2 L543.4,96.4 L543.6,95.0 L543.8,96.3 L544.1,95.3 L544.3,96.0 L544.5,98.7 L544.7,98.4 L544.9,94.2 L545.1,93.6 L545.4,96.4 L545.6,95.6 L545.8,94.3 L546.0,93.5 L546.2,96.0 L546.5,99.1 L546.7,102.3 L546.9,101.1 L547.1,104.5 L547.3,105.5 L547.6,104.6 L547.8,99.4 L548.0,96.5 L548.2,95.1 L548.4,96.2 L548.7,97.9 L548.9,98.3 L549.1,99.4 L549.3,95.7 L549.5,98.7 L549.8,103.3 L550.0,107.6 L550.2,107.7 L550.4,109.2 L550.6,109.2 L550.9,106.4 L551.1,106.7 L551.3,102.3 L551.5,96.5 L551.7,99.6 L552.0,102.0 L552.2,105.2 L552.4,103.6 L552.6,103.3 L552.8,105.0 L553.1,103.2 L553.3,95.3 L553.5,102.8 L553.7,107.1 L553.9,111.3 L554.2,111.0 L554.4,107.5 L554.6,107.1 L554.8,107.6 L555.0,101.1 L555.3,98.3 L555.5,99.3 L555.7,103.8 L555.9,105.6 L556.1,103.3 L556.4,98.8 L556.6,105.7 L556.8,105.8 L557.0,108.0 L557.2,107.5 L557.5,102.6 L557.7,110.3 L557.9,110.6 L558.1,112.3 L558.3,107.2 L558.5,104.8 L558.8,107.8 L559.0,105.4 L559.2,102.7 L559.4,98.7 L559.6,94.4 L559.9,98.1 L560.1,98.2 L560.3,92.3 L560.5,95.9 L560.7,98.7 L561.0,101.3 L561.2,93.0 L561.4,91.1 L561.6,93.3 L561.8,87.8 L562.1,83.2 L562.3,80.9 L562.5,72.7 L562.7,72.8 L562.9,75.4 L563.2,77.1 L563.4,82.0 L563.6,82.1 L563.8,81.6 L564.0,80.4 L564.3,76.8 L564.5,72.1 L564.7,69.2 L564.9,69.1 L565.1,67.2 L565.4,67.2 L565.6,67.3 L565.8,69.3 L566.0,67.1 L566.2,59.4 L566.5,55.3 L566.7,61.2 L566.9,62.5 L567.1,60.4 L567.3,59.2 L567.6,58.5 L567.8,56.4 L568.0,55.9 L568.2,57.0 L568.4,59.2 L568.7,55.9 L568.9,52.6 L569.1,49.2 L569.3,47.2 L569.5,48.8 L569.8,43.8 L570.0,49.8 L570.2,50.2 L570.4,52.9 L570.6,48.4 L570.8,45.4 L571.1,42.5 L571.3,43.5 L571.5,37.0 L571.7,39.9 L571.9,35.3 L572.2,38.0 L572.4,40.6 L572.6,38.7 L572.8,36.3 L573.0,34.1 L573.3,31.2 L573.5,31.0 L573.7,34.0 L573.9,36.2 L574.1,41.7 L574.4,42.2 L574.6,40.7" fill="none" stroke="#1AAF31" stroke-width="3.2" stroke-linejoin="round" stroke-linecap="butt"/>
<path d="M99.5,343.2 L112.7,367.2 L125.9,431.8 L139.0,401.4 L152.2,376.7 L165.4,303.7 L178.6,275.5 L191.8,150.3 L204.9,237.6 L218.1,258.2 L231.3,233.4 L244.5,325.3 L257.7,276.9 L270.8,256.7 L284.0,242.4 L297.2,265.4 L310.4,268.2 L323.6,331.1 L336.7,282.0 L349.9,341.8 L363.1,342.0 L376.3,283.5 L389.5,277.9 L402.6,310.0 L415.8,290.1 L429.0,313.3 L442.2,273.8 L455.3,295.8 L468.5,256.7 L481.7,298.4 L494.9,316.4 L508.1,378.3 L521.2,382.1 L534.4,353.6 L547.6,365.1 L560.8,291.1" fill="none" stroke="#5583EA" stroke-width="2.7" stroke-linejoin="round" stroke-linecap="butt"/>
<g fill="#000000"><circle cx="99.5" cy="343.2" r="3.0"/><circle cx="112.7" cy="367.2" r="3.0"/><circle cx="125.9" cy="431.8" r="3.0"/><circle cx="139.0" cy="401.4" r="3.0"/><circle cx="152.2" cy="376.7" r="3.0"/><circle cx="165.4" cy="303.7" r="3.0"/><circle cx="178.6" cy="275.5" r="3.0"/><circle cx="191.8" cy="150.3" r="3.0"/><circle cx="204.9" cy="237.6" r="3.0"/><circle cx="218.1" cy="258.2" r="3.0"/><circle cx="231.3" cy="233.4" r="3.0"/><circle cx="244.5" cy="325.3" r="3.0"/><circle cx="257.7" cy="276.9" r="3.0"/><circle cx="270.8" cy="256.7" r="3.0"/><circle cx="284.0" cy="242.4" r="3.0"/><circle cx="297.2" cy="265.4" r="3.0"/><circle cx="310.4" cy="268.2" r="3.0"/><circle cx="323.6" cy="331.1" r="3.0"/><circle cx="336.7" cy="282.0" r="3.0"/><circle cx="349.9" cy="341.8" r="3.0"/><circle cx="363.1" cy="342.0" r="3.0"/><circle cx="376.3" cy="283.5" r="3.0"/><circle cx="389.5" cy="277.9" r="3.0"/><circle cx="402.6" cy="310.0" r="3.0"/><circle cx="415.8" cy="290.1" r="3.0"/><circle cx="429.0" cy="313.3" r="3.0"/><circle cx="442.2" cy="273.8" r="3.0"/><circle cx="455.3" cy="295.8" r="3.0"/><circle cx="468.5" cy="256.7" r="3.0"/><circle cx="481.7" cy="298.4" r="3.0"/><circle cx="494.9" cy="316.4" r="3.0"/><circle cx="508.1" cy="378.3" r="3.0"/><circle cx="521.2" cy="382.1" r="3.0"/><circle cx="534.4" cy="353.6" r="3.0"/><circle cx="547.6" cy="365.1" r="3.0"/><circle cx="560.8" cy="291.1" r="3.0"/></g>
<g stroke="#000000" stroke-width="1.4" fill="none" stroke-linecap="butt">
<path d="M75.7,10.8 L75.7,452.25"/>
<path d="M75.0,452.25 L597.4,452.25"/>
<path d="M70.3,26.50 L75.7,26.50"/>
<path d="M70.3,154.25 L75.7,154.25"/>
<path d="M70.3,282.00 L75.7,282.00"/>
<path d="M70.3,409.75 L75.7,409.75"/>
<path d="M99.50,452.25 L99.50,457.85"/>
<path d="M209.33,452.25 L209.33,457.85"/>
<path d="M319.16,452.25 L319.16,457.85"/>
<path d="M428.99,452.25 L428.99,457.85"/>
<path d="M538.82,452.25 L538.82,457.85"/>
</g>
<g font-family="Liberation Sans, sans-serif" font-size="17.07" fill="#444444">
<text x="66.1" y="33.30" text-anchor="end">5.0</text>
<text x="66.1" y="161.05" text-anchor="end">2.5</text>
<text x="66.1" y="288.80" text-anchor="end">0.0</text>
<text x="66.1" y="416.55" text-anchor="end">-2.5</text>
<text x="99.50" y="475.0" text-anchor="middle">0</text>
<text x="209.33" y="475.0" text-anchor="middle">500</text>
<text x="319.16" y="475.0" text-anchor="middle">1000</text>
<text x="428.99" y="475.0" text-anchor="middle">1500</text>
<text x="538.82" y="475.0" text-anchor="middle">2000</text>
</g>
<g font-family="Liberation Sans, sans-serif" font-size="21.33" fill="#000000">
<text x="336.5" y="500.6" text-anchor="middle">time</text>
<text transform="translate(26.4,232.4) rotate(-90)" text-anchor="middle">value</text>
<text x="620.9" y="201.6">variable</text>
</g>
<g font-family="Liberation Sans, sans-serif" font-size="17.38" fill="#000000">
<path d="M622.9,219.0 L641.3,219.0" stroke="#E8665F" stroke-width="2.7" fill="none"/>
<text x="646.4" y="225.60">roomTempRoll</text>
<path d="M622.9,242.0 L641.3,242.0" stroke="#1AAF31" stroke-width="2.7" fill="none"/>
<text x="646.4" y="248.60">skinTemp</text>
<path d="M622.9,265.1 L641.3,265.1" stroke="#5583EA" stroke-width="2.7" fill="none"/>
<text x="646.4" y="271.70">roomTempInterp</text>
</g>
</svg>
</body></html>
